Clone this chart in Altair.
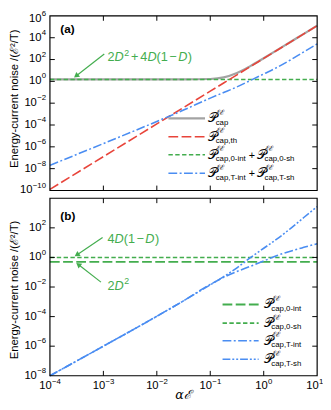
import math
import altair as alt
import pandas as pd

# ---------------- values ----------------
x_pts = [1e-4, 1e-3, 1e-2, 3.16e-2, 0.1, 0.178, 0.316, 0.562, 1.0, 1.78, 3.16, 5.62, 10.0]
x_flat = [1e-4, 10.0]

# panel (a)
p_cap = [1.5, 1.5, 1.5, 1.51, 1.66, 2.30, 5.8, 25.1, 132, 729, 4070, 2.29e4, 1.286e5]
p_th = [1.26e-10, 1.26e-7, 1.26e-4, 3.98e-3, 0.126, 0.708, 3.98, 22.4, 126, 708, 3981, 2.24e4, 1.26e5]
p_zero_sum = [1.5, 1.5]
p_T_sum = [2.0e-8, 2.0e-6, 2.1e-4, 2.35e-3, 0.0292, 0.0948, 0.312, 1.21, 4.74, 19.1, 91.8, 506, 2700]

# panel (b)
p_zero_int = [0.5, 0.5]
p_zero_sh = [1.0, 1.0]
p_T_int = [1e-8, 1e-6, 1.05e-4, 1.17e-3, 0.0151, 0.0447, 0.112, 0.251, 0.575, 1.35, 2.63, 4.79, 8.5]
p_T_sh = [1e-8, 1e-6, 1.05e-4, 1.17e-3, 0.0141, 0.0501, 0.2, 0.955, 4.17, 17.8, 89.1, 501, 2692]

# ticks
x_ticks = [1e-4, 1e-3, 1e-2, 1e-1, 1.0, 10.0]
x_tick_exp = ["−4", "−3", "−2", "−1", "0", "1"]
ya_ticks = [1e-10, 1e-8, 1e-6, 1e-4, 1e-2, 1.0, 1e2, 1e4, 1e6]
ya_tick_exp = ["−10", "−8", "−6", "−4", "−2", "0", "2", "4", "6"]
yb_ticks = [1e-8, 1e-6, 1e-4, 1e-2, 1.0, 1e2]
yb_tick_exp = ["−8", "−6", "−4", "−2", "0", "2"]

legend_a_subs = [["cap"], ["cap,th"], ["cap,0-int", "cap,0-sh"], ["cap,T-int", "cap,T-sh"]]
legend_b_subs = [["cap,0-int"], ["cap,0-sh"], ["cap,T-int"], ["cap,T-sh"]]

y_title = "Energy-current noise /(ℰ²/T)"
x_title = "αℰ"

# ---------------- layout / style ----------------
W, HA, GAP, HB = 274, 179, 8, 182
H = HA + GAP + HB
FONT = "Liberation Sans"
GREY, RED, GREEN, BLUE = "#a3a3a3", "#e8443a", "#43ad4e", "#4a8df2"
LW = 1.6
DASH_LONG = [10, 3.5]
DASH_SHORT = [4.5, 2.5]
DASH_DOT = [9, 2.5, 2, 2.5]
DASH_DOT2 = [8, 2, 2, 2, 2, 2]

XS = alt.Scale(type="log", domain=[1e-4, 10], nice=False)
YA = alt.Scale(type="log", domain=[1e-10, 1e6], range=[HA, 0], nice=False)
YB = alt.Scale(type="log", domain=[1e-8, 1e4], range=[H, HA + GAP], nice=False)

EM = {c: 0.556 for c in "0123456789"}
EM.update({"−": 0.584, "D": 0.722, "+": 0.584, "(": 0.333, ")": 0.333})


def tw(s, size):
    return sum(EM.get(c, 0.55) for c in s) * size


def one():
    return pd.DataFrame({"d": [0]})


layers = []


def line(xs, ys, yscale, color, dash=None, width=LW, interp="monotone"):
    kw = dict(color=color, strokeWidth=width, interpolate=interp)
    if dash:
        kw["strokeDash"] = dash
    return alt.Chart(pd.DataFrame({"x": xs, "y": ys})).mark_line(**kw).encode(
        x=alt.X("x:Q", scale=XS, axis=None),
        y=alt.Y("y:Q", scale=yscale, axis=None),
    )


# panel (a) curves
layers.append(line(x_pts, p_cap, YA, GREY, None, width=2.2))
layers.append(line(x_flat, p_zero_sum, YA, GREEN, DASH_SHORT, interp="linear"))
layers.append(line(x_pts, p_th, YA, RED, DASH_LONG, interp="linear"))
layers.append(line(x_pts, p_T_sum, YA, BLUE, DASH_DOT))
# panel (b) curves
layers.append(line(x_flat, p_zero_int, YB, GREEN, DASH_LONG, width=2.0, interp="linear"))
layers.append(line(x_flat, p_zero_sh, YB, GREEN, DASH_SHORT, interp="linear"))
layers.append(line(x_pts, p_T_int, YB, BLUE, DASH_DOT))
layers.append(line(x_pts, p_T_sh, YB, BLUE, DASH_DOT2))

# frames
for (y0, y1) in [(0, HA), (HA + GAP, H)]:
    layers.append(alt.Chart(one()).mark_rect(fillOpacity=0, stroke="black", strokeWidth=1.2).encode(
        x=alt.value(0), x2=alt.value(W), y=alt.value(y0), y2=alt.value(y1)))

# ticks (inward, all sides)
TK = 5
inner_x = pd.DataFrame({"v": x_ticks[1:-1]})
for (y0, y1) in [(0, TK), (HA - TK, HA), (HA + GAP, HA + GAP + TK), (H - TK, H)]:
    layers.append(alt.Chart(inner_x).mark_rule(color="black", strokeWidth=1).encode(
        x=alt.X("v:Q", scale=XS, axis=None), y=alt.value(y0), y2=alt.value(y1)))
for ticks, ys in [(ya_ticks[1:-1], YA), (yb_ticks[1:], YB)]:
    d = pd.DataFrame({"v": ticks})
    for (x0, x1) in [(0, TK), (W - TK, W)]:
        layers.append(alt.Chart(d).mark_rule(color="black", strokeWidth=1).encode(
            y=alt.Y("v:Q", scale=ys, axis=None), x=alt.value(x0), x2=alt.value(x1)))

# y tick labels: "10" + superscript exponent, right aligned
LAB, EXPS = 11.5, 8
ylab_groups = [
    (ya_ticks[:-1], ya_tick_exp[:-1], YA, 0.0),
    (ya_ticks[-1:], ya_tick_exp[-1:], YA, 3.5),   # top label kept inside the page
    (yb_ticks, yb_tick_exp, YB, 0.0),
]
for ticks, exps, ys, extra in ylab_groups:
    pe = -4.0
    d = pd.DataFrame({
        "v": ticks,
        "te": exps,
        "t10": ["10"] * len(ticks),
        "pe": [pe] * len(ticks),
        "p10": [pe - tw(e, EXPS) - 0.3 for e in exps],
    })
    layers.append(alt.Chart(d).mark_text(align="right", baseline="middle", fontSize=LAB, font=FONT,
                                         dy=extra).encode(
        x=alt.X("p10:Q", scale=None), y=alt.Y("v:Q", scale=ys, axis=None), text="t10:N"))
    layers.append(alt.Chart(d).mark_text(align="right", baseline="middle", fontSize=EXPS, font=FONT,
                                         dy=-5 + extra).encode(
        x=alt.X("pe:Q", scale=None), y=alt.Y("v:Q", scale=ys, axis=None), text="te:N"))

# x tick labels (bottom)
XL_Y = H + 10.5
w10 = tw("10", LAB)
for idxs, shift in [([0, 1, 2, 3], 0.0), ([4], 0.0), ([5], -2.5)]:
    vals = [x_ticks[i] for i in idxs]
    exps = [x_tick_exp[i] for i in idxs]
    we = tw(exps[0], EXPS)
    tot = w10 + we
    d = pd.DataFrame({"v": vals, "te": exps, "t10": ["10"] * len(vals)})
    layers.append(alt.Chart(d).mark_text(align="left", baseline="middle", fontSize=LAB, font=FONT,
                                         dx=-tot / 2 + shift).encode(
        x=alt.X("v:Q", scale=XS, axis=None), y=alt.value(XL_Y), text="t10:N"))
    layers.append(alt.Chart(d).mark_text(align="left", baseline="middle", fontSize=EXPS, font=FONT,
                                         dx=-tot / 2 + w10 + 0.3 + shift).encode(
        x=alt.X("v:Q", scale=XS, axis=None), y=alt.value(XL_Y - 4.5), text="te:N"))


def text_layer(items, **props):
    d = pd.DataFrame(items, columns=["px", "py", "t"])
    return alt.Chart(d).mark_text(**props).encode(
        x=alt.X("px:Q", scale=None), y=alt.Y("py:Q", scale=None), text="t:N")


# legends
P_items, sup_items, sub_items, plus_items = [], [], [], []
for x0, rows_y, subs, (lx0, lx1), styles in [
    (162, [105, 124, 142.3, 161.3], legend_a_subs, (121.5, 159),
     [(GREY, None, 2.2), (RED, DASH_LONG, LW), (GREEN, DASH_SHORT, LW), (BLUE, DASH_DOT, LW)]),
    (219, [296, 315, 333, 352], legend_b_subs, (177, 214),
     [(GREEN, DASH_LONG, 2.0), (GREEN, DASH_SHORT, LW), (BLUE, DASH_DOT, LW), (BLUE, DASH_DOT2, LW)]),
]:
    for py, sub, (col, dash, wid) in zip(rows_y, subs, styles):
        for k, s in enumerate(sub):
            base = x0 + 50 * k
            P_items.append((base, py, "𝒫"))
            sup_items.append((base + 8.5, py - 5.5, "ℰℰ"))
            sub_items.append((base + 8, py + 4.5, s))
            if k == 1:
                plus_items.append((x0 + 45, py + 1, "+"))
        kw = dict(color=col, strokeWidth=wid)
        if dash:
            kw["strokeDash"] = dash
        layers.append(alt.Chart(one()).mark_rule(**kw).encode(
            x=alt.value(lx0), x2=alt.value(lx1), y=alt.value(py), y2=alt.value(py)))

layers.append(text_layer(P_items, align="left", baseline="middle", fontSize=13, font="DejaVu Serif"))
layers.append(text_layer(sup_items, align="left", baseline="middle", fontSize=7.5, font=FONT))
layers.append(text_layer(sub_items, align="left", baseline="middle", fontSize=8, font=FONT))
layers.append(text_layer(plus_items, align="center", baseline="middle", fontSize=11, font=FONT))

# annotations (green)
ANN = 13
ann_n, ann_i, ann_s = [], [], []


def compose(x0, yc, parts):
    x = x0
    yb = yc + 4.6
    for t, kind, gap in parts:
        x += gap
        if kind == "s":
            ann_s.append((x, yb - 5.5, t))
            x += tw(t, 9)
        else:
            (ann_i if kind == "i" else ann_n).append((x, yb, t))
            x += tw(t, ANN)


compose(59, 42, [("2", "n", 0), ("D", "i", 0), ("2", "s", 0.5), ("+", "n", 2), ("4", "n", 2), ("D", "i", 0),
                 ("(", "n", 0), ("1", "n", 0), ("−", "n", 1.5), ("D", "i", 1.5), (")", "n", 0.5)])
compose(59, 228.3, [("4", "n", 0), ("D", "i", 0), ("(", "n", 0), ("1", "n", 0), ("−", "n", 1.5),
                    ("D", "i", 1.5), (")", "n", 0.5)])
compose(59, 276, [("2", "n", 0), ("D", "i", 0), ("2", "s", 0.5)])
layers.append(text_layer(ann_n, align="left", baseline="alphabetic", fontSize=ANN, font=FONT, color=GREEN))
layers.append(text_layer(ann_i, align="left", baseline="alphabetic", fontSize=ANN, font=FONT, fontStyle="italic",
                         color=GREEN))
layers.append(text_layer(ann_s, align="left", baseline="alphabetic", fontSize=9, font=FONT, color=GREEN))

arrows = [((55.7, 39), (25, 63)), ((54, 227.3), (25.7, 246.3)), ((52.3, 273), (27.3, 253.5))]
ar_rows, head_rows = [], []
for (sx, sy), (tx, ty) in arrows:
    dx, dy = tx - sx, ty - sy
    L = math.hypot(dx, dy)
    ux, uy = dx / L, dy / L
    ar_rows.append((sx, sy, tx - 4 * ux, ty - 4 * uy))
    ang = math.degrees(math.atan2(dx, -dy)) % 360
    head_rows.append((tx - 3.2 * ux, ty - 3.2 * uy, ang))
ar = pd.DataFrame(ar_rows, columns=["px", "py", "px2", "py2"])
layers.append(alt.Chart(ar).mark_rule(color=GREEN, strokeWidth=1.2).encode(
    x=alt.X("px:Q", scale=None), y=alt.Y("py:Q", scale=None), x2="px2:Q", y2="py2:Q"))
hd = pd.DataFrame(head_rows, columns=["px", "py", "ang"])
layers.append(alt.Chart(hd).mark_point(shape="triangle", filled=True, size=38, color=GREEN, opacity=1,
                                       strokeWidth=0).encode(
    x=alt.X("px:Q", scale=None), y=alt.Y("py:Q", scale=None), angle=alt.Angle("ang:Q", scale=None)))

# panel labels and axis titles
layers.append(text_layer([(10.7, 14, "(a)"), (10.7, 205, "(b)")], align="left", baseline="middle",
                         fontSize=12, font=FONT, fontWeight="bold"))
layers.append(text_layer([(-36, 85, y_title), (-36, 281, y_title)], align="center", baseline="middle",
                         fontSize=11.5, font=FONT, angle=270))
layers.append(text_layer([(W / 2, H + 20, x_title)], align="center", baseline="middle",
                         fontSize=13, font="DejaVu Serif", fontStyle="italic"))

chart = alt.layer(*layers).resolve_scale(x="independent", y="independent").properties(
    width=W, height=H,
    autosize=alt.AutoSizeParams(type="none"),
    padding={"left": 43, "top": 3, "right": 6, "bottom": 30},
).configure_view(stroke=None)

chart.save("out.html", embed_options={"renderer": "svg", "actions": False})
